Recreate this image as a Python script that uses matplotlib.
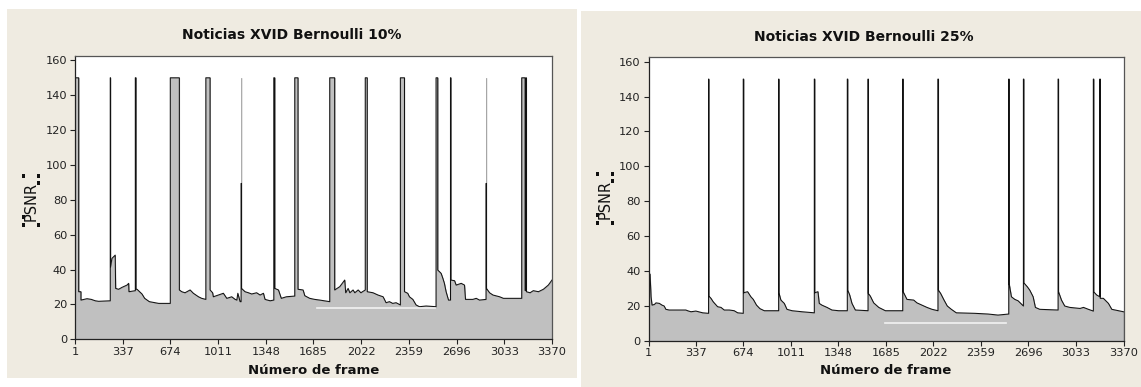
import matplotlib
matplotlib.use('Agg')
import matplotlib.pyplot as plt
from matplotlib.patches import Rectangle

# ---------------- data ----------------
titles = ["Noticias XVID Bernoulli 10%", "Noticias XVID Bernoulli 25%"]
x_label = "Número de frame"
y_label = "PSNR"
x_ticks = [1, 337, 674, 1011, 1348, 1685, 2022, 2359, 2696, 3033, 3370]
y_ticks = [0, 20, 40, 60, 80, 100, 120, 140, 160]

# (frame, PSNR) points, Bernoulli 10%
puntos_10 = [(1,150),(27,150),(27,27.3),(43,27.3),(43,22.5),(86,23.3),(116,22.9),(144,22.1),(168,21.8),(250,22.1),
    (250,150),(252,150),(252,41.6),(262,46.4),(285,48.3),(288,29.2),(309,28.7),(333,29.8),(368,31.1),(380,32.1),
    (382,27.3),(427,27.9),(427,150),(432,150),(432,28.7),(439,28.7),(474,26),(493,23.5),(526,21.6),(592,20.6),
    (674,20.6),(674,150),(738,150),(738,28.3),(755,27.3),(778,26.7),(814,28.3),(837,26.4),(873,24.4),(896,23.5),
    (925,22.9),(925,150),(955,150),(955,28.3),(973,26.7),(978,24.4),(1014,25.4),(1049,26.4),(1073,23.5),(1108,24.4),
    (1132,22.9),(1144,22.5),(1151,26.4),(1167,21.6),(1174,21.6),(1174,150),(1177,150),(1177,29.2),(1202,27.3),
    (1226,26.7),(1249,26),(1284,26.7),(1308,25.4),(1332,26.4),(1343,22.9),(1379,22.1),(1405,22.5),(1405,150),
    (1412,150),(1412,29.2),(1438,28.3),(1458,23.5),(1494,24.4),(1553,24.8),(1553,150),(1576,150),(1576,28.7),
    (1612,28.3),(1624,25),(1659,23.5),(1694,22.9),(1730,22.5),(1800,21.6),(1800,150),(1835,150),(1835,28.3),
    (1871,30.2),(1906,34),(1913,26.7),(1930,29.2),(1942,26.7),(1965,28.3),(1977,26.7),(2001,28.3),(2020,26.7),
    (2051,28.3),(2051,150),(2065,150),(2065,27.3),(2106,26.7),(2141,25.4),(2177,24.4),(2198,21),(2222,21.6),
    (2245,20.6),(2269,21),(2299,19.7),(2299,150),(2328,150),(2328,27.3),(2351,26.4),(2363,24.4),(2387,22.9),
    (2410,19.7),(2434,18.7),(2481,19.1),(2551,18.7),(2551,150),(2563,150),(2563,39.7),(2575,38.8),(2587,37.8),
    (2599,35),(2610,32.1),(2622,27.3),(2639,22.5),(2653,22.5),(2653,150),(2656,150),(2656,34),(2682,33.6),
    (2693,31.1),(2729,32.1),(2752,31.1),(2759,22.9),(2811,22.9),(2835,23.5),(2858,22.5),(2904,22.9),(2904,150),
    (2907,150),(2907,29.2),(2929,26.7),(2953,25.4),(3000,24.4),(3027,23.5),(3156,23.5),(3156,150),(3180,150),
    (3180,28),(3187,28),(3187,150),(3189,150),(3189,27.3),(3215,26.7),(3238,27.9),(3274,27.3),(3309,28.7),
    (3344,31.1),(3370,34)]
# frames where the black outline stops short of the filled spike: (frame, outline top)
contorno_corto_10 = [(1174, 89.4), (1177, 89.4), (2904, 89.4), (2907, 89.4)]

# (frame, PSNR) points, Bernoulli 25%
puntos_25 = [(1,38.6),(12,38.2),(19,25.2),(26,20.4),(43,20.8),(54,21.7),(78,21.4),(97,20.4),(112,19.9),(124,18),
    (148,17.6),(266,17.6),(278,17.2),(302,16.6),(337,17),(385,16),(427,15.7),(427,150),(429,150),(429,25.6),
    (444,24.3),(460,22.3),(491,19.5),(515,19.1),(538,17.6),(574,17.6),(609,17.2),(633,16),(673,15.7),(673,150),
    (676,150),(676,27.5),(704,28.1),(727,25.2),(744,23.7),(767,20.4),(791,18.4),(822,17.2),(924,17.2),(924,150),
    (926,150),(926,27.5),(940,23.3),(964,21.4),(983,18),(1019,17.2),(1090,16.6),(1177,16),(1177,150),(1180,150),
    (1180,27.5),(1203,28.1),(1212,21.4),(1231,20.4),(1267,19.1),(1302,17.6),(1349,17.2),(1411,17.2),(1411,150),
    (1414,150),(1414,29),(1428,26.2),(1444,21.4),(1468,17.6),(1558,17.2),(1558,150),(1560,150),(1560,27.1),
    (1574,25.6),(1598,21.7),(1634,19.1),(1681,17.2),(1804,17.2),(1804,150),(1807,150),(1807,28.1),(1834,23.7),
    (1882,23.3),(1905,21.7),(1941,20.4),(1976,19.1),(2012,18),(2054,17.2),(2054,150),(2057,150),(2057,29),
    (2073,27.1),(2097,23.3),(2120,19.9),(2149,18),(2184,16),(2315,15.7),(2409,15.3),(2480,14.7),(2556,15.3),
    (2556,150),(2559,150),(2559,32.8),(2575,25.2),(2599,23.7),(2622,22.9),(2660,19.9),(2660,150),(2663,150),
    (2663,33.2),(2688,30.9),(2705,29),(2729,25.2),(2745,19.1),(2776,18),(2906,17.6),(2906,150),(2909,150),
    (2909,28.1),(2930,23.3),(2953,19.9),(2989,19.1),(3062,18.5),(3086,19.1),(3121,18),(3156,17),(3156,150),
    (3159,150),(3159,28),(3180,26.2),(3202,25.2),(3202,150),(3205,150),(3205,24.3),(3227,24.3),(3263,21.4),
    (3287,18),(3334,17.2),(3370,16.6)]
contorno_corto_25 = []

# faint white horizontal stroke visible in each panel: (start frame, end frame, level)
trazo_10 = (1708, 2545, 17.8)
trazo_25 = (1680, 2534, 10.3)

# ---------------- figure ----------------
W, H = 1141, 387
fig = plt.figure(figsize=(W/100, H/100), dpi=100)
fig.patch.set_facecolor('white')
beige = '#EFEBE1'

def px_rect(x0, y0, x1, y1):
    return (x0/W, 1 - y1/H, (x1-x0)/W, (y1-y0)/H)

for (x0, y0, x1, y1) in [(7, 9, 577, 378), (581, 11, 1141, 387)]:
    l, b, w, h = px_rect(x0, y0, x1, y1)
    fig.patches.append(Rectangle((l, b), w, h, transform=fig.transFigure,
                                 facecolor=beige, edgecolor='none', zorder=-5))

axes_px = [(75, 56, 552, 339.3), (648.5, 57.3, 1123.5, 340.7)]
title_pos = [(292, 35), (864, 37)]
ylabel_pos = [(31, 201), (605, 199)]
series = [puntos_10, puntos_25]
cortos = [contorno_corto_10, contorno_corto_25]
trazos = [trazo_10, trazo_25]

for i in range(2):
    x0, y0, x1, y1 = axes_px[i]
    ax = fig.add_axes(px_rect(x0, y0, x1, y1))
    ax.set_zorder(2)
    ax.set_facecolor('white')
    fr = [p[0] for p in series[i]]
    ps = [p[1] for p in series[i]]
    corto = dict(cortos[i])
    ps_line = [corto[f] if (f in corto and v >= 150) else v for f, v in zip(fr, ps)]
    ax.fill_between(fr, 0, ps, facecolor='#C0C0C0', edgecolor='#8A8A8A', lw=0.3, zorder=1)
    ax.plot(fr, ps_line, color='#111111', lw=0.75, zorder=2)
    t0, t1, lv = trazos[i]
    ax.plot([t0, t1], [lv, lv], color='white', lw=1.2, alpha=0.8, zorder=3)
    ax.set_xlim(1, 3370)
    ax.set_ylim(0, 162.5)
    ax.set_xticks(x_ticks)
    ax.set_xticklabels([str(v) for v in x_ticks])
    ax.set_yticks(y_ticks)
    ax.set_yticklabels([str(v) for v in y_ticks])
    ax.tick_params(axis='both', direction='out', length=3.5, width=0.8, pad=2,
                   labelsize=8.2, colors='#222222')
    for s in ax.spines.values():
        s.set_color('#555555')
        s.set_linewidth(0.9)
    ax.spines['left'].set_color('#222222')
    ax.spines['bottom'].set_color('#222222')
    cx = (x0 + x1) / 2
    fig.text(cx/W, 1 - 370/H, x_label, ha='center', va='center',
             fontsize=9.5, fontweight='bold', color='#111111')
    tx, ty = title_pos[i]
    fig.text(tx/W, 1 - ty/H, titles[i], ha='center', va='center',
             fontsize=10, fontweight='bold', color='#111111')
    lx, ly = ylabel_pos[i]
    fig.text(lx/W, 1 - ly/H, y_label, ha='center', va='center', rotation=90,
             fontsize=10.5, color='#111111', family='DejaVu Sans')
    for hx, hy in [(-7.5, -25), (7.5, -25), (7.5, -18), (-7.5, 16), (-7.5, 24), (7.5, 24)]:
        s = 3.6
        fig.patches.append(Rectangle(((lx+hx-s/2)/W, 1-(ly+hy+s/2)/H), s/W, s/H,
                                     transform=fig.transFigure, facecolor='#111111',
                                     edgecolor='none', zorder=5))

fig.savefig('out.png', dpi=100, facecolor=fig.get_facecolor())
